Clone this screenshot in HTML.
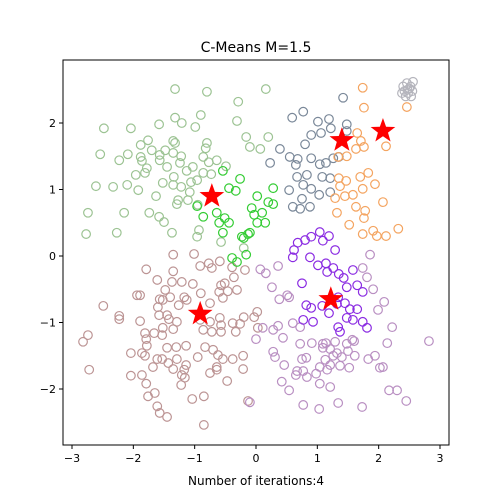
<!DOCTYPE html>
<html><head><meta charset="utf-8">
<style>
html,body{margin:0;padding:0;background:#fff;}
svg{display:block;font-family:"DejaVu Sans","Liberation Sans",sans-serif;}
</style></head>
<body>
<svg id="chart" width="500" height="500" viewBox="0 0 500 500">
<rect width="500" height="500" fill="#fff"/>
<g id="marks"></g>
<g id="axes"></g>
<text x="256" y="52" text-anchor="middle" font-size="14">C-Means M=1.5</text>
<text x="256" y="485" text-anchor="middle" font-size="12">Number of iterations:4</text>
</svg>
<script>
const xTicks = [-3,-2,-1,0,1,2,3];
const yTicks = [-2,-1,0,1,2];
const lightGreenPts = [[-1.32,2.51],[-0.80,2.47],[-0.29,2.32],[-2.04,1.92],[-1.58,1.98],[-1.32,2.08],[-1.21,2.00],[-0.99,1.94],[-0.90,2.12],[-0.31,2.03],[-0.16,1.79],[-0.10,1.64],[-1.76,1.74],[-1.88,1.67],[-1.70,1.59],[-2.09,1.53],[-1.88,1.49],[-1.86,1.43],[-1.57,1.52],[-1.48,1.59],[-1.35,1.73],[-1.32,1.70],[-1.35,1.55],[-1.22,1.50],[-1.57,1.44],[-1.45,1.34],[-1.78,1.32],[-1.96,1.22],[-1.81,1.25],[-1.24,1.40],[-1.13,1.28],[-1.03,1.34],[-0.80,1.70],[-0.82,1.62],[-0.86,1.49],[-0.77,1.41],[-0.64,1.44],[-0.49,1.35],[-0.86,1.25],[-0.73,1.23],[-1.34,1.19],[-1.52,1.10],[-1.35,1.07],[-1.22,1.04],[-1.06,1.11],[-0.96,1.14],[-2.33,1.04],[-2.10,1.07],[-1.92,0.99],[-1.63,0.90],[-1.27,0.84],[-1.29,0.78],[-1.11,0.84],[-1.08,0.96],[-0.95,0.77],[-2.15,0.65],[-1.74,0.65],[-1.58,0.59],[-1.50,0.51],[-2.27,0.35],[-1.37,0.35],[-0.93,0.39],[-0.96,0.29],[-0.57,0.21],[-0.20,0.12],[-2.48,1.92],[-2.54,1.53],[-2.61,1.05],[-2.77,0.33],[-2.74,0.65],[-2.23,1.44],[0.16,2.51],[0.07,1.61],[0.20,1.79]];
const brightGreenPts = [[-0.54,1.28],[-0.26,1.16],[-0.44,1.02],[-0.33,0.98],[0.02,0.90],[-0.64,0.65],[-0.51,0.57],[-0.60,0.50],[-0.44,0.50],[-0.54,0.35],[-0.23,0.29],[-0.13,0.33],[-0.07,0.72],[-0.03,0.62],[-0.86,0.59],[-0.96,0.75],[0.02,0.50],[0.15,0.50],[0.20,0.81],[0.28,0.78],[0.28,1.02],[-0.10,0.35],[0.10,0.65],[-0.20,0.27],[-0.16,0.02],[-0.31,-0.09],[-0.39,-0.03]];
const slatePts = [[1.42,2.38],[0.77,2.17],[0.59,2.08],[1.01,2.02],[1.19,2.06],[1.22,1.92],[1.06,1.85],[0.90,1.82],[0.80,1.68],[1.48,1.98],[1.48,1.88],[0.39,1.61],[0.55,1.49],[0.68,1.46],[0.65,1.37],[0.90,1.47],[1.04,1.38],[1.14,1.40],[1.26,1.47],[1.35,1.49],[0.67,1.19],[0.83,1.22],[1.08,1.19],[1.21,1.17],[0.77,1.07],[0.90,1.01],[0.54,0.99],[1.03,0.92],[0.75,0.86],[0.60,0.74],[0.72,0.71],[0.88,0.74],[1.21,0.96],[0.23,1.40]];
const greyPts = [[2.40,2.55],[2.46,2.60],[2.52,2.55],[2.55,2.48],[2.48,2.45],[2.42,2.48],[2.50,2.52],[2.44,2.40],[2.56,2.62],[2.38,2.45],[2.53,2.40],[2.47,2.50]];
const orangePts = [[1.74,2.53],[1.76,2.23],[1.65,1.85],[1.71,1.73],[1.63,1.61],[1.76,1.64],[2.12,1.65],[1.48,1.50],[1.34,1.49],[2.46,2.24],[1.83,1.25],[1.70,1.19],[1.94,1.08],[1.74,1.01],[1.47,1.13],[1.37,1.05],[1.35,1.17],[1.45,0.90],[1.58,0.92],[1.29,0.87],[2.07,0.81],[1.63,0.74],[1.78,0.68],[1.76,0.57],[1.32,0.65],[1.91,0.38],[1.97,0.30],[2.12,0.30],[2.32,0.41],[1.74,0.33],[1.52,0.47]];
const purplePts = [[0.60,-0.02],[0.88,-0.02],[1.01,-0.14],[1.14,-0.11],[1.16,-0.24],[1.26,-0.18],[1.35,-0.27],[1.43,-0.33],[1.48,-0.47],[1.58,-0.21],[1.65,-0.44],[1.74,-0.54],[0.75,-0.41],[0.82,-0.74],[0.90,-0.78],[1.08,-0.75],[1.19,-0.86],[1.32,-0.72],[1.45,-0.71],[1.34,-0.62],[0.77,-0.96],[0.93,-0.99],[1.53,-0.80],[1.65,-0.80],[1.58,-0.96],[1.48,-0.93],[1.34,-1.07],[1.37,-1.14],[1.74,-0.99],[1.81,-1.08],[1.29,0.09],[0.62,0.09],[1.04,0.36],[1.19,0.30],[0.68,0.20],[0.80,0.24],[0.90,0.29],[1.09,0.23]];
const lavenderPts = [[0.36,-0.15],[0.07,-0.20],[0.16,-0.26],[1.86,0.02],[1.74,-0.18],[1.81,-0.32],[1.91,-0.50],[2.09,-0.69],[1.99,-0.81],[0.26,-0.47],[0.38,-0.65],[0.51,-0.59],[0.54,-0.62],[0.60,-1.01],[0.72,-1.07],[0.36,-1.05],[0.28,-1.11],[0.44,-1.23],[0.11,-1.08],[0.00,-1.25],[0.72,-1.32],[0.91,-1.31],[1.09,-1.32],[1.14,-1.31],[1.29,-1.29],[1.48,-1.32],[1.57,-1.26],[1.60,-1.28],[1.09,-1.38],[1.21,-1.40],[1.32,-1.46],[1.50,-1.43],[1.61,-1.50],[1.40,-1.52],[1.26,-1.50],[1.13,-1.56],[0.82,-1.53],[0.75,-1.55],[0.28,-1.44],[0.31,-1.52],[0.46,-1.64],[0.67,-1.73],[0.77,-1.73],[0.83,-1.82],[0.65,-1.79],[0.98,-1.77],[1.04,-1.67],[1.16,-1.71],[1.21,-1.64],[1.37,-1.65],[1.52,-1.68],[1.83,-1.55],[1.94,-1.50],[2.02,-1.68],[2.07,-1.67],[2.14,-1.31],[2.22,-1.07],[2.82,-1.28],[0.42,-1.89],[0.54,-2.02],[1.04,-1.92],[1.21,-1.97],[2.17,-2.02],[2.30,-2.02],[2.45,-2.18],[0.77,-2.24],[1.03,-2.30],[1.34,-2.21],[1.73,-2.27],[-0.10,-2.20]];
const brownPts = [[-1.35,0.02],[-1.01,0.03],[-0.59,-0.08],[-0.77,-0.11],[-0.91,-0.15],[-0.72,-0.18],[-0.39,-0.17],[-0.18,-0.21],[-1.79,-0.20],[-1.35,-0.23],[-0.36,-0.32],[-1.61,-0.36],[-1.37,-0.39],[-1.21,-0.39],[-1.03,-0.42],[-0.51,-0.41],[-0.57,-0.44],[-0.60,-0.54],[-0.46,-0.53],[-0.31,-0.51],[-0.54,-0.63],[-1.48,-0.51],[-1.94,-0.59],[-1.89,-0.59],[-1.57,-0.65],[-1.52,-0.66],[-1.40,-0.62],[-1.17,-0.62],[-1.13,-0.66],[-0.90,-0.56],[-0.75,-0.71],[-1.26,-0.74],[-2.49,-0.75],[-2.23,-0.90],[-2.23,-0.95],[-1.89,-0.98],[-1.58,-0.89],[-1.45,-0.89],[-1.42,-0.95],[-1.29,-0.99],[-1.60,-0.77],[-0.91,-0.96],[-0.75,-0.99],[-0.59,-0.93],[-0.57,-1.04],[-0.38,-1.01],[-0.26,-1.02],[-0.20,-0.92],[-0.03,-0.92],[0.02,-0.84],[0.03,-1.08],[-0.86,-1.11],[-0.72,-1.14],[-0.57,-1.14],[-0.33,-1.14],[-1.52,-1.08],[-1.35,-1.10],[-1.66,-1.16],[-1.81,-1.16],[-1.53,-1.19],[-1.79,-1.25],[-1.78,-1.35],[-2.74,-1.19],[-2.82,-1.29],[-2.04,-1.46],[-1.86,-1.46],[-1.81,-1.50],[-1.61,-1.55],[-1.53,-1.55],[-1.45,-1.38],[-1.30,-1.37],[-1.43,-1.61],[-1.29,-1.55],[-1.14,-1.35],[-0.83,-1.37],[-0.70,-1.41],[-0.62,-1.49],[-0.54,-1.55],[-0.38,-1.55],[-0.21,-1.50],[-0.95,-1.52],[-1.68,-1.67],[-1.35,-1.70],[-1.14,-1.64],[-1.17,-1.71],[-1.21,-1.79],[-1.16,-1.83],[-1.22,-1.94],[-0.75,-1.76],[-0.64,-1.71],[-0.64,-1.67],[-0.47,-1.88],[-0.21,-1.70],[-2.72,-1.71],[-2.04,-1.80],[-1.86,-1.79],[-1.79,-1.92],[-1.65,-2.06],[-1.76,-2.11],[-1.04,-2.15],[-0.85,-2.11],[-0.13,-2.18],[-1.61,-2.26],[-1.57,-2.36],[-1.45,-2.42],[-0.85,-2.54]];
const centerX = [-0.72,1.40,2.07,1.22,-0.91];
const centerY = [0.90,1.74,1.88,-0.65,-0.87];

const NS = 'http://www.w3.org/2000/svg';
const L = 63, R = 449, T = 60, B = 445;
function sx(v){ return 256 + v * 61.33; }
function sy(v){ return 256 - v * 66.5; }
const marks = document.getElementById('marks');
const axes = document.getElementById('axes');

const groups = [
  ['light-green-cluster', lightGreenPts, '#9cc393'],
  ['brown-cluster', brownPts, '#bc9494'],
  ['lavender-cluster', lavenderPts, '#b98fc2'],
  ['bright-green-cluster', brightGreenPts, '#33cc33'],
  ['slate-cluster', slatePts, '#7a8899'],
  ['orange-cluster', orangePts, '#f4a460'],
  ['purple-cluster', purplePts, '#8a2be2'],
  ['grey-cluster', greyPts, '#b4b4bc']
];
groups.forEach(function(g){
  const grp = document.createElementNS(NS, 'g');
  
  
  g[1].forEach(function(p){
    const c = document.createElementNS(NS, 'circle');
    
    
    c.setAttribute('cx', sx(p[0]));
    c.setAttribute('cy', sy(p[1]));
    c.setAttribute('r', 4.3);
    c.setAttribute('fill', 'none');
    c.setAttribute('stroke', g[2]);
    c.setAttribute('stroke-width', 1.2);
    grp.appendChild(c);
  });
  marks.appendChild(grp);
});

function starPath(cx, cy, ro, ri){
  let d = '';
  for (let i = 0; i < 10; i++){
    const a = -Math.PI/2 + i * Math.PI/5;
    const r = i % 2 ? ri : ro;
    d += (i ? 'L' : 'M') + (cx + r*Math.cos(a)).toFixed(2) + ',' + (cy + r*Math.sin(a)).toFixed(2);
  }
  return d + 'Z';
}
centerX.forEach(function(x, i){
  const s = document.createElementNS(NS, 'path');
  
  
  s.setAttribute('d', starPath(sx(x), sy(centerY[i]), 13, 5.3));
  s.setAttribute('fill', '#ff0000');
  marks.appendChild(s);
});

const frame = document.createElementNS(NS, 'rect');


frame.setAttribute('x', L); frame.setAttribute('y', T);
frame.setAttribute('width', R - L); frame.setAttribute('height', B - T);
frame.setAttribute('fill', 'none'); frame.setAttribute('stroke', '#000'); frame.setAttribute('stroke-width', 1);
axes.appendChild(frame);

xTicks.forEach(function(t){
  const x = sx(t);
  const ln = document.createElementNS(NS, 'line');
  
  
  ln.setAttribute('x1', x); ln.setAttribute('x2', x);
  ln.setAttribute('y1', B); ln.setAttribute('y2', B + 4);
  ln.setAttribute('stroke', '#000');
  axes.appendChild(ln);
  const tx = document.createElementNS(NS, 'text');
  
  
  tx.setAttribute('x', x); tx.setAttribute('y', B + 17);
  tx.setAttribute('text-anchor', 'middle'); tx.setAttribute('font-size', '11');
  tx.textContent = t < 0 ? '\u2212' + Math.abs(t) : String(t);
  axes.appendChild(tx);
});
yTicks.forEach(function(t){
  const y = sy(t);
  const ln = document.createElementNS(NS, 'line');
  
  
  ln.setAttribute('x1', L - 4); ln.setAttribute('x2', L);
  ln.setAttribute('y1', y); ln.setAttribute('y2', y);
  ln.setAttribute('stroke', '#000');
  axes.appendChild(ln);
  const tx = document.createElementNS(NS, 'text');
  
  
  tx.setAttribute('x', L - 7); tx.setAttribute('y', y + 4);
  tx.setAttribute('text-anchor', 'end'); tx.setAttribute('font-size', '11');
  tx.textContent = t < 0 ? '\u2212' + Math.abs(t) : String(t);
  axes.appendChild(tx);
});
</script>
</body></html>
